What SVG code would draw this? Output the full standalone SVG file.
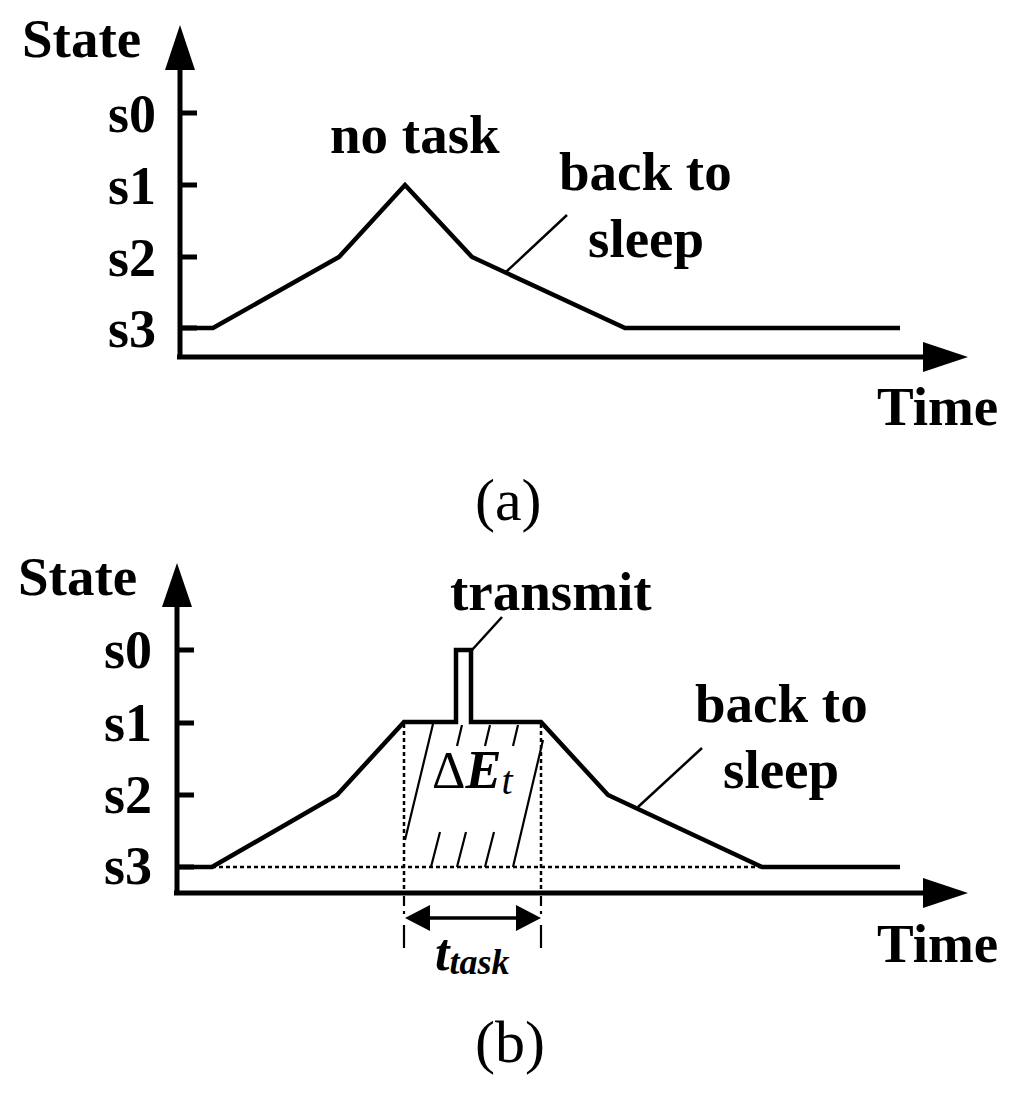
<svg xmlns="http://www.w3.org/2000/svg" width="1024" height="1097" viewBox="0 0 1024 1097">
<style>
.lbl{font-family:"Liberation Serif","Times New Roman",serif;font-weight:bold;font-size:55px;fill:#000}
.st{font-family:"Liberation Serif","Times New Roman",serif;font-weight:bold;font-size:54px;fill:#000;text-anchor:end}
.cap{font-family:"Liberation Serif","Times New Roman",serif;font-size:60px;fill:#000}
.ax{stroke:#000;stroke-width:5;fill:none}
.curve{stroke:#000;stroke-width:4.5;fill:none;stroke-linejoin:miter}
.lead{stroke:#000;stroke-width:2.5;fill:none}
.dot{stroke:#000;stroke-width:2.5;fill:none;stroke-dasharray:4 3}
.hatch{stroke:#000;stroke-width:2.2;fill:none}
.tip{fill:#000}
</style>
<rect width="1024" height="1097" fill="#fff"/>

<!-- Panel (a) -->
<g id="panel-a-axes">
  <path class="ax" d="M180,357 V68 M177,357 H925"/>
  <polygon class="tip" points="180,25 165,70 195,70"/>
  <polygon class="tip" points="968,357 923,342 923,372"/>
  <path class="ax" d="M180,113 H197 M180,185 H197 M180,257 H197 M180,328 H197"/>
</g>
<g id="panel-a-labels">
  <text class="lbl" x="22" y="57">State</text>
  <text class="st" x="156" y="132">s0</text>
  <text class="st" x="156" y="204">s1</text>
  <text class="st" x="156" y="276">s2</text>
  <text class="st" x="156" y="347">s3</text>
  <text class="lbl" x="877" y="425">Time</text>
  <text class="cap" x="475" y="520">(a)</text>
</g>
<g id="panel-a-curve">
  <polyline class="curve" points="182,328 213,328 339,257 405,185 472,257 625,328 900,328"/>
</g>
<g id="node-a-notask">
  <text class="lbl" x="330" y="153">no task</text>
</g>
<g id="node-a-sleep">
  <text class="lbl" x="559" y="190">back to</text>
  <text class="lbl" x="588" y="257">sleep</text>
</g>
<g id="connectors-a">
  <line class="lead" x1="506" y1="272" x2="567" y2="215"/>
</g>

<!-- Panel (b) -->
<g id="panel-b-axes">
  <path class="ax" d="M177,893 V605 M174,893 H925"/>
  <polygon class="tip" points="177,563 162,607 192,607"/>
  <polygon class="tip" points="968,893 923,878 923,908"/>
  <path class="ax" d="M177,650 H194 M177,723 H194 M177,795 H194 M177,867 H194"/>
</g>
<g id="panel-b-labels">
  <text class="lbl" x="18" y="595">State</text>
  <text class="st" x="152" y="668">s0</text>
  <text class="st" x="152" y="741">s1</text>
  <text class="st" x="152" y="813">s2</text>
  <text class="st" x="152" y="884">s3</text>
  <text class="lbl" x="877" y="962">Time</text>
  <text class="cap" x="475" y="1062">(b)</text>
</g>
<g id="panel-b-guides">
  <line class="dot" x1="212" y1="867" x2="762" y2="867"/>
  <line class="dot" x1="404" y1="724" x2="404" y2="893"/>
  <line class="dot" x1="541" y1="724" x2="541" y2="893"/>
  <path class="hatch" d="M433,724 L405,840 M543,740 L513,867 M462,725 L457,746 M490,725 L485,746 M518,725 L513,746 M440,832 L431,867 M466,832 L457,867 M494,832 L485,867"/>
</g>
<g id="panel-b-curve">
  <polyline class="curve" points="179,867 212,867 337,795 404,722 456,722 456,650 471,650 471,722 541,722 608,795 762,867 900,867"/>
</g>
<g id="node-b-transmit">
  <text class="lbl" x="450" y="610">transmit</text>
</g>
<g id="node-b-sleep">
  <text class="lbl" x="695" y="722">back to</text>
  <text class="lbl" x="723" y="788">sleep</text>
</g>
<g id="node-b-energy">
  <text x="432" y="788" font-family="'Liberation Serif','Times New Roman',serif" font-size="52">Δ<tspan font-weight="bold" font-style="italic" font-size="54">E</tspan><tspan font-style="italic" font-size="40" dy="6">t</tspan></text>
</g>
<g id="node-b-ttask">
  <text x="435" y="970" font-family="'Liberation Serif','Times New Roman',serif" font-weight="bold" font-style="italic" font-size="52">t<tspan font-size="36" dy="4">task</tspan></text>
</g>
<g id="connectors-b">
  <line class="lead" x1="472" y1="650" x2="502" y2="617"/>
  <line class="lead" x1="638" y1="807" x2="702" y2="748"/>
  <line stroke="#000" stroke-width="3.5" x1="425" y1="918" x2="520" y2="918"/>
  <polygon class="tip" points="405,918 430,905 430,931"/>
  <polygon class="tip" points="541,918 516,905 516,931"/>
  <path class="hatch" d="M404,896 V906 M404,911 V914 M404,925 V948 M541,896 V906 M541,911 V914 M541,925 V948"/>
</g>
</svg>
